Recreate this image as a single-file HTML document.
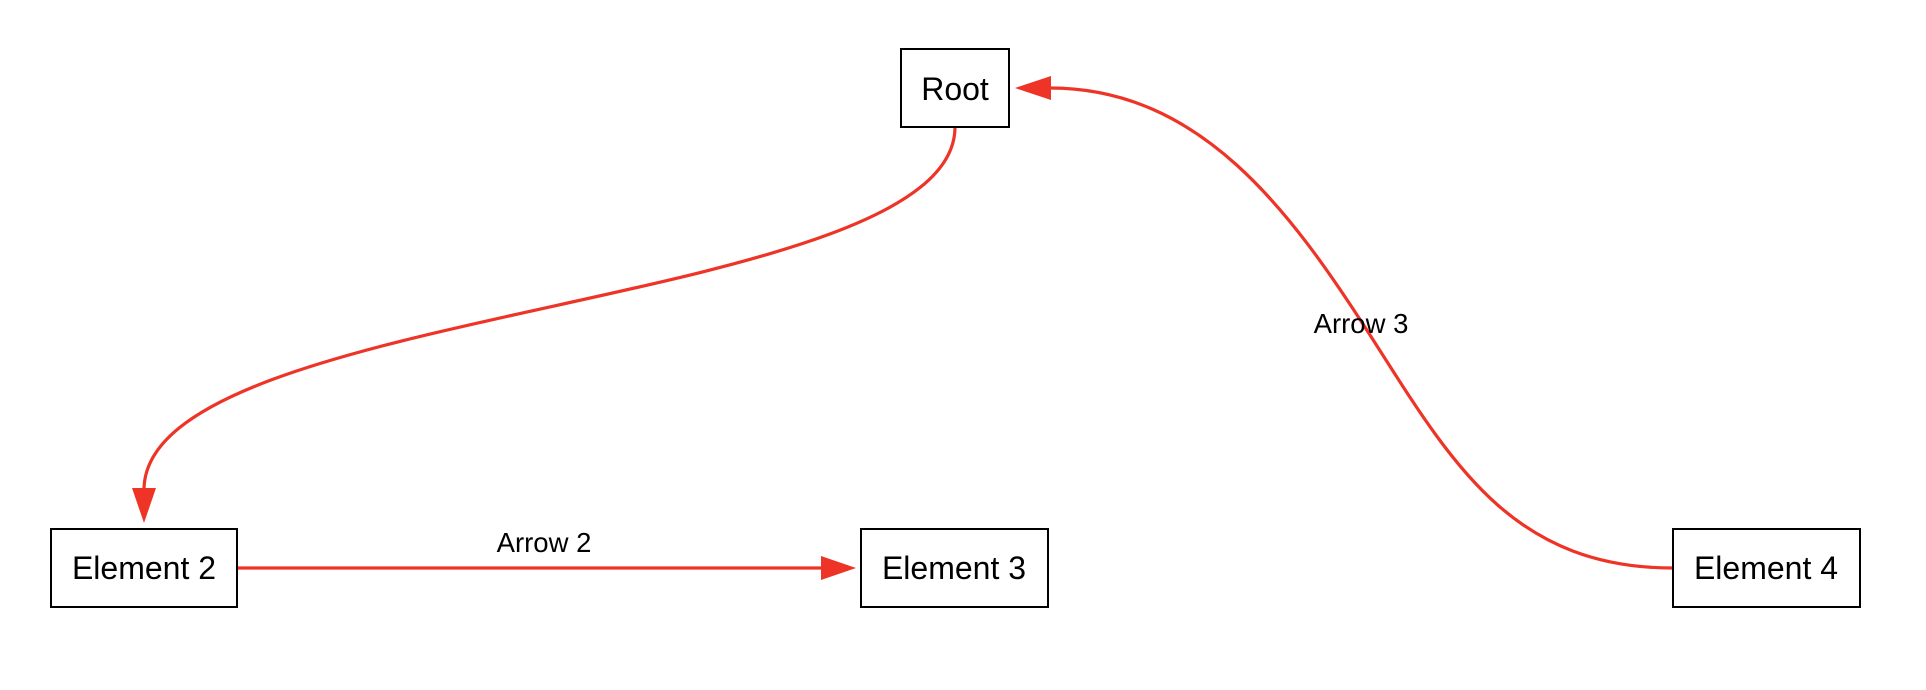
<!DOCTYPE html>
<html><head><meta charset="utf-8"><style>
html,body{margin:0;padding:0;background:#fff;width:1926px;height:690px;overflow:hidden}
svg{display:block}
text{font-family:"Liberation Sans",Arial,sans-serif;fill:#000}
</style></head><body>
<svg width="1926" height="690" viewBox="0 0 1926 690" xmlns="http://www.w3.org/2000/svg">
<g fill="none" stroke="#ee3427" stroke-width="3.2">
<path d="M955,127 C955,310 144,303 144,490"/>
<line x1="237" y1="568" x2="822" y2="568"/>
<path d="M1673,568 C1510,568 1450,460 1370,335 S1200,88 1050,88"/>
</g>
<g fill="#ee3427">
<polygon points="144,523 132,488 156,488"/>
<polygon points="856,568 821,556 821,580"/>
<polygon points="1015,88 1051,76 1051,100"/>
</g>
<g fill="#fff" stroke="#000" stroke-width="2">
<rect x="901" y="49" width="108" height="78"/>
<rect x="51" y="529" width="186" height="78"/>
<rect x="861" y="529" width="187" height="78"/>
<rect x="1673" y="529" width="187" height="78"/>
</g>
<g font-size="32" text-anchor="middle">
<text x="955" y="100">Root</text>
<text x="144" y="579">Element 2</text>
<text x="954" y="579">Element 3</text>
<text x="1766" y="579">Element 4</text>
</g>
<g font-size="27.5" text-anchor="middle">
<text x="544" y="552">Arrow 2</text>
<text x="1361" y="333">Arrow 3</text>
</g>
</svg>
</body></html>
